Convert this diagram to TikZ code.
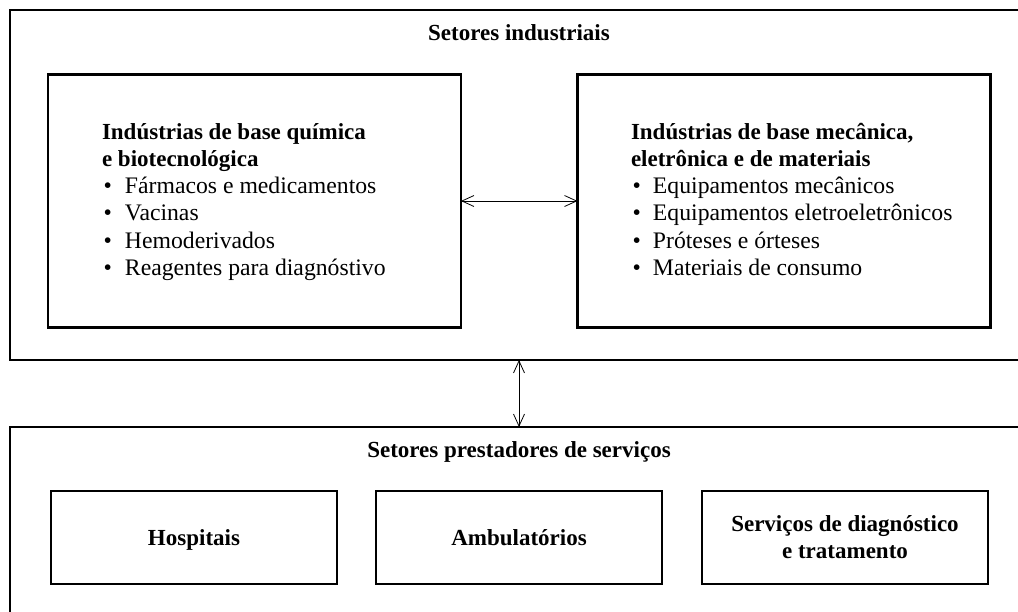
\documentclass[tikz,border=0pt]{standalone}
\usepackage{fontspec}
\setmainfont{Liberation Serif}
\usetikzlibrary{arrows.meta}
\begin{document}
\begin{tikzpicture}[x=1pt,y=-1pt,
  every node/.style={font=\fontsize{23}{27}\selectfont, inner sep=0pt, outer sep=0pt},
  frame/.style={draw, line width=2.6pt, inner sep=0pt, outer sep=0pt},
  title/.style={font=\fontsize{23}{27}\selectfont\bfseries, anchor=base},
  label/.style={font=\fontsize{23}{27}\selectfont\bfseries, anchor=base, align=center},
  list/.style={anchor=base west, font=\fontsize{23.7}{27.3}\selectfont},
  arr/.style={{Straight Barb[length=12pt,width=11pt]}-{Straight Barb[length=12pt,width=11pt]}, line width=0.8pt}]
\useasboundingbox (0,0) rectangle (1018,611);
% outer frames
\node[frame, minimum width=1030pt, minimum height=350pt] (ind) at (525,185) {};
\node[frame, minimum width=1030pt, minimum height=223pt] (serv) at (525,538.5) {};
\node[title] (tind) at (519,40) {Setores industriais};
\node[title] (tserv) at (519,457) {Setores prestadores de serviços};
% inner boxes top
\node[frame, minimum width=413pt, minimum height=253pt] (quim) at (254.5,201) {};
\node[frame, minimum width=413pt, minimum height=253pt] (mec) at (784,201) {};
\node[list] (tquim) at (102,139) {%
  \renewcommand{\arraystretch}{1.0}%
  \begin{tabular}[t]{@{}p{23pt}@{}l@{}}
  \multicolumn{2}{@{}l@{}}{\fontsize{23}{27.3}\selectfont\bfseries Indústrias de base química}\\
  \multicolumn{2}{@{}l@{}}{\fontsize{23}{27.3}\selectfont\bfseries e biotecnológica}\\
  \hspace{1.5pt}\textbullet & Fármacos e medicamentos\\
  \hspace{1.5pt}\textbullet & Vacinas\\
  \hspace{1.5pt}\textbullet & Hemoderivados\\
  \hspace{1.5pt}\textbullet & Reagentes para diagnóstivo
  \end{tabular}};
\node[list] (tmec) at (631,139) {%
  \renewcommand{\arraystretch}{1.0}%
  \begin{tabular}[t]{@{}p{22pt}@{}l@{}}
  \multicolumn{2}{@{}l@{}}{\fontsize{23}{27.3}\selectfont\bfseries Indústrias de base mecânica,}\\
  \multicolumn{2}{@{}l@{}}{\fontsize{23}{27.3}\selectfont\bfseries eletrônica e de materiais}\\
  \hspace{1.5pt}\textbullet & Equipamentos mecânicos\\
  \hspace{1.5pt}\textbullet & Equipamentos eletroeletrônicos\\
  \hspace{1.5pt}\textbullet & Próteses e órteses\\
  \hspace{1.5pt}\textbullet & Materiais de consumo
  \end{tabular}};
% bottom boxes
\node[frame, minimum width=286pt, minimum height=93pt] (hosp) at (194,537.5) {};
\node[frame, minimum width=286pt, minimum height=93pt] (amb) at (519,537.5) {};
\node[frame, minimum width=286pt, minimum height=93pt] (diag) at (845,537.5) {};
\node[label] (thosp) at (194,545) {Hospitais};
\node[label] (tamb) at (519,545) {Ambulatórios};
\node[label] (tdiag) at (845,558) {Serviços de diagnóstico\\e tratamento};
% connectors
\draw[arr] (quim.east) -- (mec.west);
\coordinate (v) at (519,0);
\draw[arr] (ind.south -| v) -- (serv.north -| v);
\end{tikzpicture}
\end{document}
